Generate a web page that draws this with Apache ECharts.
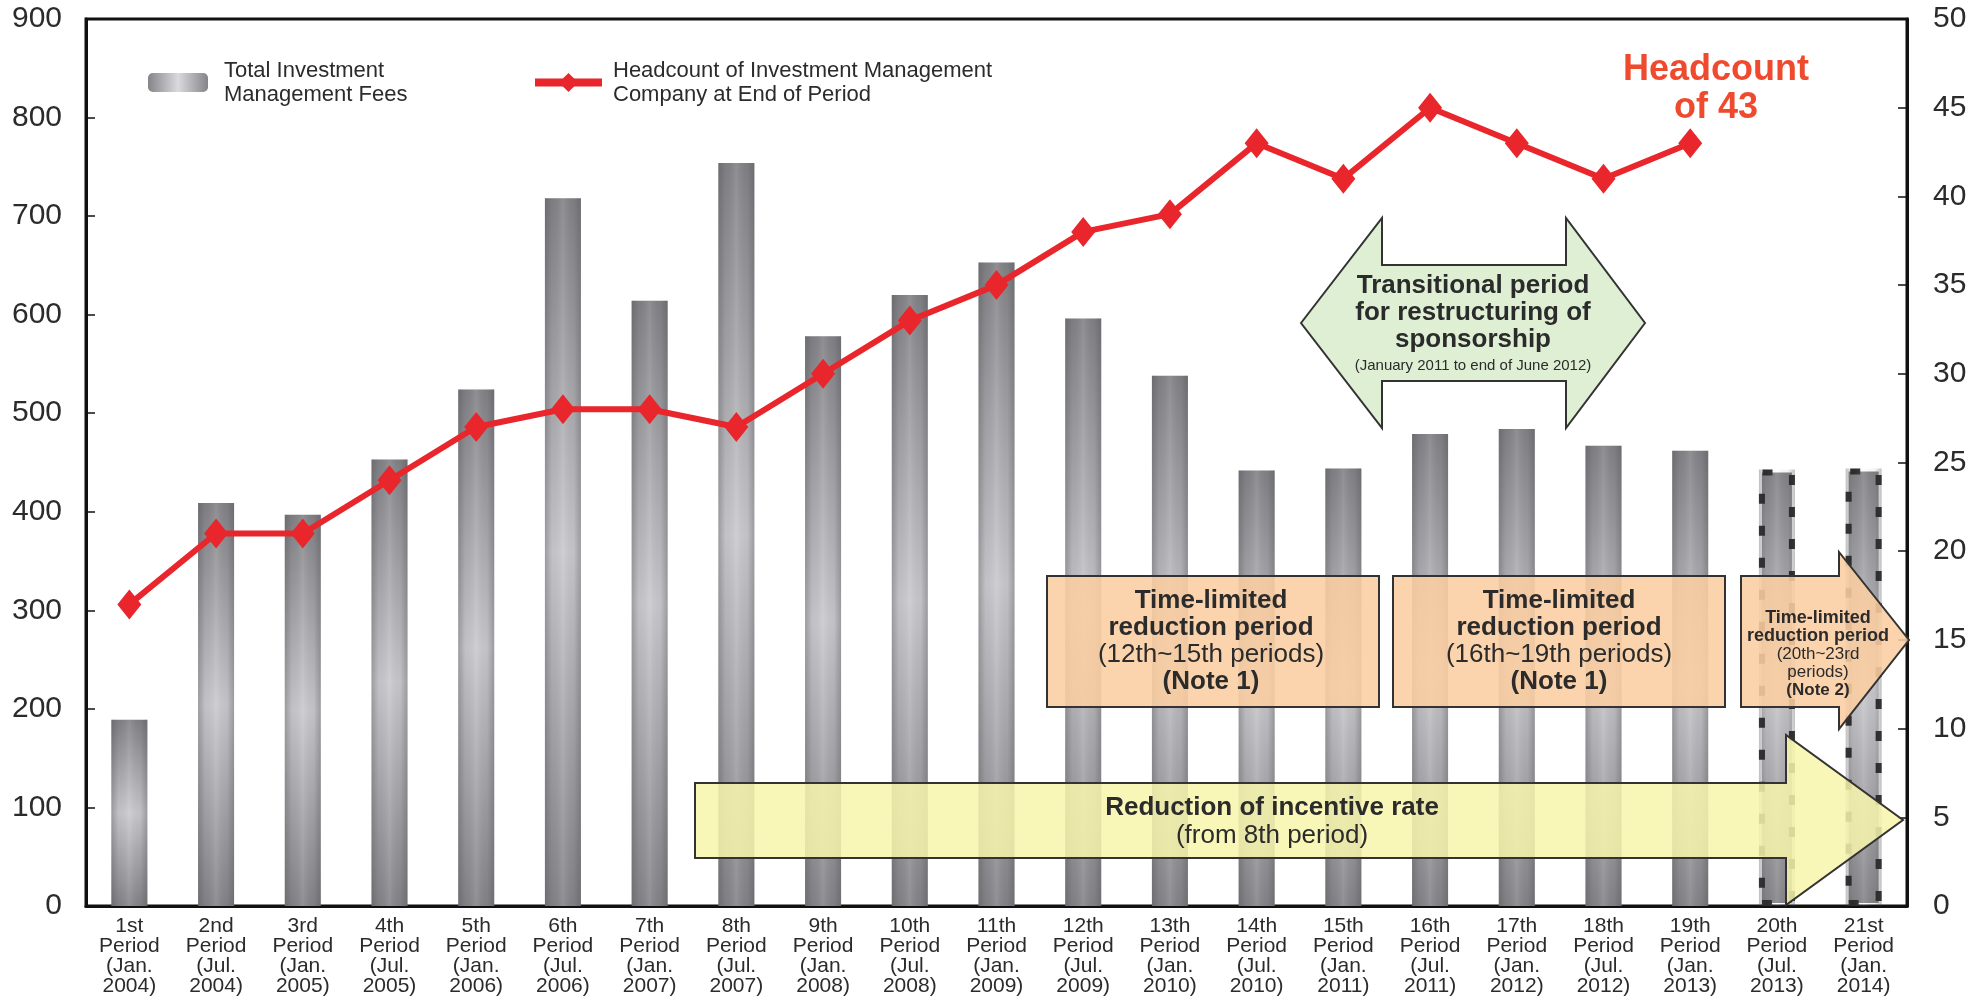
<!DOCTYPE html>
<html>
<head>
<meta charset="utf-8">
<title>Investment management fees and headcount</title>
<script src="https://cdn.jsdelivr.net/npm/echarts@6/dist/echarts.min.js"></script>
<style>
  html, body { margin: 0; padding: 0; background: #fff; }
  #chart { width: 1984px; height: 1002px; }
</style>
</head>
<body>
<div id="chart"></div>
<script>
// x categories (4-line labels)
var periods = [
  '1st\nPeriod\n(Jan.\n2004)', '2nd\nPeriod\n(Jul.\n2004)', '3rd\nPeriod\n(Jan.\n2005)',
  '4th\nPeriod\n(Jul.\n2005)', '5th\nPeriod\n(Jan.\n2006)', '6th\nPeriod\n(Jul.\n2006)',
  '7th\nPeriod\n(Jan.\n2007)', '8th\nPeriod\n(Jul.\n2007)', '9th\nPeriod\n(Jan.\n2008)',
  '10th\nPeriod\n(Jul.\n2008)', '11th\nPeriod\n(Jan.\n2009)', '12th\nPeriod\n(Jul.\n2009)',
  '13th\nPeriod\n(Jan.\n2010)', '14th\nPeriod\n(Jul.\n2010)', '15th\nPeriod\n(Jan.\n2011)',
  '16th\nPeriod\n(Jul.\n2011)', '17th\nPeriod\n(Jan.\n2012)', '18th\nPeriod\n(Jul.\n2012)',
  '19th\nPeriod\n(Jan.\n2013)', '20th\nPeriod\n(Jul.\n2013)', '21st\nPeriod\n(Jan.\n2014)'
]
// total investment management fees (left axis)
var fees = [189, 409, 397, 453, 524, 718, 614, 754, 578, 620, 653, 596, 538, 442, 444, 479, 484, 467, 462, 443, 444]
// headcount at end of period (right axis), none for 20th/21st
var headcount = [17, 21, 21, 24, 27, 28, 28, 27, 30, 33, 35, 38, 39, 43, 41, 45, 43, 41, 43, null, null]
// periods drawn with a dashed outline (forecast)
var dashedFrom = 19

var leftTicks = { min: 0, max: 900, interval: 100 }
var rightTicks = { min: 0, max: 50, interval: 5 }

var FONT = "'Liberation Sans', Arial, Helvetica, sans-serif"
var TXT = '#2b2b2b'

var barGrad = new echarts.graphic.LinearGradient(0, 0, 0, 1, [
  { offset: 0, color: '#808084' },
  { offset: 0.5, color: '#c9c9cd' },
  { offset: 1, color: '#828286' }
])
var shadeGrad = new echarts.graphic.LinearGradient(0, 0, 1, 0, [
  { offset: 0, color: 'rgba(70,70,75,0.35)' },
  { offset: 0.2, color: 'rgba(70,70,75,0.05)' },
  { offset: 0.5, color: 'rgba(255,255,255,0.12)' },
  { offset: 0.8, color: 'rgba(70,70,75,0.05)' },
  { offset: 1, color: 'rgba(70,70,75,0.35)' }
])

var feeData = fees.map(function(v, i) {
  if (i < dashedFrom) return v
  return {
    value: v,
    itemStyle: { borderColor: '#2a2a2a', borderWidth: 6, borderType: [10, 22] }
  }
})

function textLines(cx, y0, step, lines) {
  return lines.map(function(l, i) {
    return {
      type: 'text',
      x: cx,
      y: y0 + i * step,
      z: 100,
      style: {
        text: l[0],
        font: l[1],
        fill: l[2] || TXT,
        align: 'center',
        verticalAlign: 'middle'
      }
    }
  })
}

var b26 = 'bold 26px ' + FONT
var r26 = '26px ' + FONT
var b18 = 'bold 18px ' + FONT
var r17 = '17px ' + FONT

var graphics = [
  // green double arrow
  {
    type: 'polygon', z: 90,
    shape: { points: [[1301, 323], [1382, 218], [1382, 265], [1566, 265], [1566, 218], [1645, 323], [1566, 428], [1566, 381], [1382, 381], [1382, 428]] },
    style: { fill: 'rgba(220,238,210,0.95)', stroke: '#333', lineWidth: 2 }
  },
  // orange boxes
  {
    type: 'rect', z: 90,
    shape: { x: 1047, y: 576, width: 332, height: 131 },
    style: { fill: 'rgba(250,205,160,0.88)', stroke: '#333', lineWidth: 2 }
  },
  {
    type: 'rect', z: 90,
    shape: { x: 1393, y: 576, width: 332, height: 131 },
    style: { fill: 'rgba(250,205,160,0.88)', stroke: '#333', lineWidth: 2 }
  },
  {
    type: 'polygon', z: 90,
    shape: { points: [[1741, 576], [1839, 576], [1839, 552], [1909, 640], [1839, 729], [1839, 707], [1741, 707]] },
    style: { fill: 'rgba(250,205,160,0.88)', stroke: '#333', lineWidth: 2 }
  },
  // yellow arrow
  {
    type: 'polygon', z: 90,
    shape: { points: [[695, 783], [1786, 783], [1786, 735], [1903, 820], [1786, 905], [1786, 858], [695, 858]] },
    style: { fill: 'rgba(248,246,172,0.85)', stroke: '#333', lineWidth: 2 }
  }
]
  .concat(textLines(1473, 286, 27, [
    ['Transitional period', b26], ['for restructuring of', b26], ['sponsorship', b26]
  ]))
  .concat(textLines(1473, 366, 20, [['(January 2011 to end of June 2012)', '15px ' + FONT]]))
  .concat(textLines(1211, 601, 27, [
    ['Time-limited', b26], ['reduction period', b26], ['(12th~15th periods)', r26], ['(Note 1)', b26]
  ]))
  .concat(textLines(1559, 601, 27, [
    ['Time-limited', b26], ['reduction period', b26], ['(16th~19th periods)', r26], ['(Note 1)', b26]
  ]))
  .concat(textLines(1818, 618, 18, [
    ['Time-limited', b18], ['reduction period', b18], ['(20th~23rd', r17], ['periods)', r17], ['(Note 2)', 'bold 17px ' + FONT]
  ]))
  .concat(textLines(1272, 808, 28, [
    ['Reduction of incentive rate', b26], ['(from 8th period)', r26]
  ]))
  .concat(textLines(1716, 70, 38, [
    ['Headcount', 'bold 36px ' + FONT, '#f04a2e'], ['of 43', 'bold 36px ' + FONT, '#f04a2e']
  ]))

var chart = echarts.init(document.getElementById('chart'))
chart.setOption({
  backgroundColor: '#fff',
  animation: false,
  textStyle: { fontFamily: FONT },
  grid: {
    left: 86, right: 77, top: 19, bottom: 96,
    containLabel: false,
    outerBoundsMode: 'none',
    show: true,
    borderColor: '#111',
    borderWidth: 3
  },
  legend: [{
    left: 143, top: 46,
    itemWidth: 60, itemHeight: 19,
    data: [{
      name: 'Total Investment\nManagement Fees',
      itemStyle: {
        color: new echarts.graphic.LinearGradient(0, 0, 1, 0, [
          { offset: 0, color: '#858589' },
          { offset: 0.5, color: '#dadade' },
          { offset: 1, color: '#858589' }
        ])
      }
    }],
    textStyle: { fontSize: 22, lineHeight: 24, color: TXT, padding: [15, 0, 0, 11] }
  }, {
    left: 526, top: 46,
    itemWidth: 67, itemHeight: 24,
    lineStyle: { width: 8 },
    data: ['Headcount of Investment Management\nCompany at End of Period'],
    textStyle: { fontSize: 22, lineHeight: 24, color: TXT, padding: [15, 0, 0, 6] }
  }],
  xAxis: {
    type: 'category',
    data: periods,
    boundaryGap: true,
    axisLine: { lineStyle: { color: '#111', width: 3 } },
    axisTick: { inside: true, length: 6, interval: 0, lineStyle: { color: '#111', width: 1.5 } },
    axisLabel: { interval: 0, margin: 10, fontSize: 21, lineHeight: 20, color: TXT, fontFamily: FONT },
    splitLine: { show: false }
  },
  yAxis: [{
    type: 'value',
    min: leftTicks.min, max: leftTicks.max, interval: leftTicks.interval,
    axisLine: { show: true, lineStyle: { color: '#111', width: 3 } },
    axisTick: { show: true, inside: true, length: 9, lineStyle: { color: '#111', width: 1.5 } },
    axisLabel: { margin: 24, fontSize: 30, color: TXT, fontFamily: FONT },
    splitLine: { show: false }
  }, {
    type: 'value',
    position: 'right',
    min: rightTicks.min, max: rightTicks.max, interval: rightTicks.interval,
    axisLine: { show: true, lineStyle: { color: '#111', width: 3 } },
    axisTick: { show: true, inside: true, length: 9, lineStyle: { color: '#111', width: 1.5 } },
    axisLabel: { margin: 26, fontSize: 30, color: TXT, fontFamily: FONT },
    splitLine: { show: false }
  }],
  series: [{
    name: 'Total Investment\nManagement Fees',
    type: 'bar',
    yAxisIndex: 0,
    barWidth: 36,
    itemStyle: { color: barGrad },
    data: feeData,
    z: 2
  }, {
    // cylinder side shading laid over the same bars
    name: 'shade',
    type: 'bar',
    yAxisIndex: 0,
    barWidth: 36,
    barGap: '-100%',
    silent: true,
    itemStyle: { color: shadeGrad },
    data: fees,
    z: 3
  }, {
    name: 'Headcount of Investment Management\nCompany at End of Period',
    type: 'line',
    yAxisIndex: 1,
    data: headcount,
    symbol: 'diamond',
    symbolSize: [24, 30],
    lineStyle: { color: '#e8262b', width: 6 },
    itemStyle: { color: '#e8262b' },
    z: 10
  }],
  graphic: graphics
})
</script>
</body>
</html>
